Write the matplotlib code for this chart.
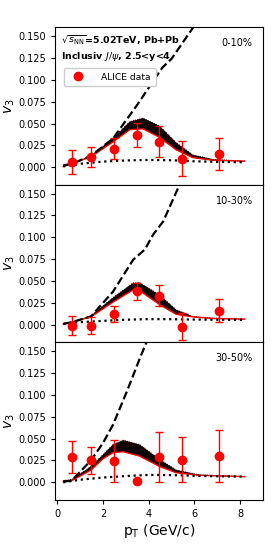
import numpy as np
import matplotlib
matplotlib.use("Agg")
import matplotlib.pyplot as plt
from matplotlib.lines import Line2D

# ---- data ----
centralities = ["0-10%", "10-30%", "30-50%"]
pt = [0.63, 1.47, 2.46, 3.47, 4.45, 5.46, 7.09]

v3_data = [
    [0.006, 0.012, 0.021, 0.037, 0.029, 0.010, 0.015],
    [-0.001, -0.001, 0.012, 0.0385, 0.033, -0.002, 0.016],
    [0.029, 0.025, 0.024, 0.001, 0.029, 0.026, 0.030],
]
err_lo = [
    [0.014, 0.012, 0.012, 0.014, 0.017, 0.020, 0.018],
    [0.011, 0.009, 0.009, 0.010, 0.012, 0.015, 0.013],
    [0.018, 0.015, 0.024, 0.0, 0.029, 0.026, 0.030],
]
err_hi = [
    [0.014, 0.011, 0.012, 0.014, 0.018, 0.020, 0.018],
    [0.011, 0.010, 0.009, 0.009, 0.012, 0.015, 0.013],
    [0.018, 0.015, 0.024, 0.0, 0.029, 0.026, 0.030],
]

# dashed model curves
dash_x = [
    [0.26, 0.63, 1.47, 2.44, 3.46, 4.6, 5.0, 5.95],
    [0.26, 0.63, 1.47, 2.44, 3.32, 3.83, 4.19, 4.63, 5.35],
    [0.26, 0.63, 1.47, 2.0, 2.44, 3.03, 3.6, 3.9],
]
dash_y = [
    [0.002, 0.004, 0.013, 0.033, 0.070, 0.114, 0.124, 0.160],
    [0.001, 0.003, 0.0095, 0.038, 0.0744, 0.086, 0.103, 0.118, 0.160],
    [0.0008, 0.002, 0.025, 0.045, 0.066, 0.103, 0.141, 0.160],
]

# dotted model curves
dot_x = [0.26, 1.0, 2.0, 3.0, 4.0, 5.0, 6.0, 7.0, 8.2]
dot_y = [
    [0.001, 0.004, 0.0065, 0.0078, 0.0084, 0.0080, 0.0068, 0.0062, 0.0057],
    [0.001, 0.003, 0.0045, 0.0058, 0.0065, 0.0064, 0.0060, 0.0058, 0.0057],
    [0.000, 0.003, 0.0055, 0.0072, 0.0085, 0.0083, 0.0075, 0.0070, 0.0065],
]

# hatched band (lower/upper)
band_x = [
    [0.26, 0.63, 1.47, 2.44, 3.17, 3.75, 4.48, 5.2, 5.93, 6.8, 8.2],
    [0.26, 0.63, 1.47, 2.44, 3.32, 3.6, 4.48, 5.2, 5.93, 6.8, 8.2],
    [0.26, 0.63, 1.47, 2.0, 2.44, 2.88, 3.6, 4.48, 5.2, 6.2, 8.2],
]
band_lo = [
    [0.001, 0.004, 0.012, 0.029, 0.043, 0.044, 0.034, 0.020, 0.011, 0.008, 0.007],
    [0.001, 0.003, 0.009, 0.026, 0.040, 0.039, 0.023, 0.012, 0.009, 0.0072, 0.0065],
    [0.001, 0.002, 0.014, 0.027, 0.034, 0.035, 0.030, 0.018, 0.011, 0.008, 0.0065],
]
band_hi = [
    [0.002, 0.004, 0.013, 0.033, 0.052, 0.056, 0.047, 0.028, 0.014, 0.009, 0.007],
    [0.001, 0.003, 0.010, 0.031, 0.0477, 0.048, 0.034, 0.017, 0.0095, 0.0076, 0.0065],
    [0.002, 0.003, 0.018, 0.0315, 0.043, 0.048, 0.043, 0.026, 0.014, 0.0085, 0.0065],
]

yticks = [0.000, 0.025, 0.050, 0.075, 0.100, 0.125, 0.150]
xticks = [0, 2, 4, 6, 8]

plt.rcParams["hatch.linewidth"] = 1.0

fig, axes = plt.subplots(3, 1, figsize=(2.78, 5.56), dpi=100, sharex=True)
fig.subplots_adjust(left=0.198, right=0.946, top=0.951, bottom=0.101, hspace=0)

for i, ax in enumerate(axes):
    ax.fill_between(band_x[i], band_lo[i], band_hi[i], facecolor="red",
                    edgecolor="black", hatch="\\" * 16, linewidth=0, zorder=2)
    ax.plot(band_x[i], band_hi[i], color="black", ls=(0, (1, 1)), lw=0.8, zorder=2)
    ax.plot(band_x[i], band_lo[i], color="red", lw=1.0, zorder=2)
    ax.plot(dash_x[i], dash_y[i], color="black", ls="--", lw=1.6, zorder=3)
    ax.plot(dot_x, dot_y[i], color="black", ls=":", lw=1.6, zorder=3)
    ax.errorbar(pt, v3_data[i], yerr=[err_lo[i], err_hi[i]], fmt="o",
                color="red", ms=6, capsize=3, elinewidth=1, capthick=1,
                zorder=4)
    ax.set_xlim(-0.1, 9.0)
    ax.set_ylim(-0.02, 0.16)
    ax.set_yticks(yticks)
    ax.set_yticklabels([f"{t:.3f}" for t in yticks])
    ax.set_xticks(xticks)
    ax.tick_params(labelsize=7, length=3)
    ax.set_ylabel("$v_3$", fontsize=10, labelpad=1)
    ax.text(0.95, 0.90, centralities[i], transform=ax.transAxes,
            ha="right", va="center", fontsize=7)

axes[0].text(0.03, 0.915, r"$\sqrt{s_{\rm NN}}$=5.02TeV, Pb+Pb", transform=axes[0].transAxes,
             ha="left", va="center", fontsize=6.8, fontweight="bold")
axes[0].text(0.03, 0.815, r"Inclusiv $J/\psi$, 2.5<y<4", transform=axes[0].transAxes,
             ha="left", va="center", fontsize=6.8, fontweight="bold")
handle = Line2D([], [], color="red", marker="o", ls="none", ms=6)
axes[0].legend([handle], ["ALICE data"], loc="upper left", bbox_to_anchor=(0.02, 0.77),
               fontsize=6.6, handletextpad=1.6, borderpad=0.5, framealpha=1)
axes[2].set_xlabel("p$_{\\rm T}$ (GeV/c)", fontsize=10, labelpad=2)

fig.savefig("out.png", dpi=100)
